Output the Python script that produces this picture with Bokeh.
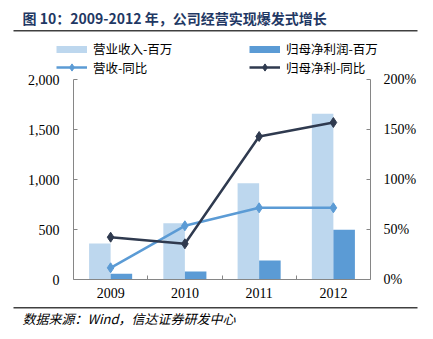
import numpy as np
from bokeh.plotting import figure
from bokeh.models import (Range1d, LinearAxis, FixedTicker, NumeralTickFormatter,
                          PrintfTickFormatter, CustomJSTickFormatter, Legend, LegendItem,
                          Label, BoxAnnotation, ColumnDataSource)
from bokeh.transform import dodge
from bokeh.embed import file_html
from bokeh.resources import INLINE

# ---- data ----
years = ["2009", "2010", "2011", "2012"]
revenue = [360, 563, 963, 1657]          # 营业收入-百万
net_profit = [57, 80, 190, 497]          # 归母净利润-百万
revenue_yoy = [11.7, 53.7, 71.7, 71.7]   # 营收-同比 (%)
profit_yoy = [42.3, 35.7, 143.0, 157.0]  # 归母净利-同比 (%)
left_ticks = [0, 500, 1000, 1500, 2000]
right_ticks = [0, 50, 100, 150, 200]
series_names = ["营业收入-百万", "归母净利润-百万", "营收-同比", "归母净利-同比"]
title_text = "图 10：2009-2012 年，公司经营实现爆发式增长"
source_text = "数据来源：Wind，信达证券研发中心"

# ---- layout (pixels) ----
W, H = 433, 339
FL, FR, FT, FB = 73, 370, 79, 279   # plot frame edges on the canvas

# ---- styles ----
C_LIGHT = "#BDD7EE"
C_BAR = "#5B9BD5"
C_LINE1 = "#5B9BD5"
C_LINE2 = "#2F3A4F"
AXIS_C = "#868686"
CJK = "Noto Sans CJK SC"
SERIF = "Liberation Serif"

n = len(years)
xs = np.arange(n) + 0.5
src = ColumnDataSource(dict(x=xs, revenue=revenue, net_profit=net_profit,
                            revenue_yoy=revenue_yoy, profit_yoy=profit_yoy))

# ranges extended so the visible frame fills the canvas and the axes sit at fixed locations
xpx = (FR - FL) / n
x0, x1 = -FL / xpx, n + (W - FR) / xpx
ymax = left_ticks[-1]
ypx = (FB - FT) / ymax
y0, y1 = -(H - FB) / ypx, ymax + FT / ypx
pmax = right_ticks[-1]
ppx = (FB - FT) / pmax
p0, p1 = -(H - FB) / ppx, pmax + FT / ppx

p = figure(width=W, height=H, x_range=Range1d(x0, x1), y_range=Range1d(y0, y1),
           output_backend="svg", toolbar_location=None,
           min_border=0, min_border_left=0, min_border_right=0,
           min_border_top=0, min_border_bottom=0)
p.outline_line_color = None
p.grid.visible = False
p.background_fill_color = "white"
p.border_fill_color = "white"
p.extra_y_ranges = {"pct": Range1d(p0, p1)}

r_rev = p.vbar(x=dodge("x", -0.145), top="revenue", width=0.29, source=src,
               fill_color=C_LIGHT, line_color=None)
r_np = p.vbar(x=dodge("x", 0.145), top="net_profit", width=0.29, source=src,
              fill_color=C_BAR, line_color=None)

l1 = p.line(x="x", y="revenue_yoy", y_range_name="pct", source=src, line_color=C_LINE1, line_width=2.5)
m1 = p.scatter(x="x", y="revenue_yoy", y_range_name="pct", source=src, marker="diamond",
               size=10, fill_color=C_LINE1, line_color=C_LINE1)
l2 = p.line(x="x", y="profit_yoy", y_range_name="pct", source=src, line_color=C_LINE2, line_width=2.5)
m2 = p.scatter(x="x", y="profit_yoy", y_range_name="pct", source=src, marker="diamond",
               size=10, fill_color=C_LINE2, line_color=C_LINE2)

# legend proxies for bar swatches (thin wide bars); NaN data draws nothing on the plot
empty = ColumnDataSource(dict(x=[np.nan], y=[np.nan]))
px1 = p.line(x="x", y="y", source=empty, line_color=C_LIGHT, line_width=7, line_cap="butt")
px2 = p.line(x="x", y="y", source=empty, line_color=C_BAR, line_width=7, line_cap="butt")

# ---- axes (fixed inside the full-canvas frame) ----
xa = p.xaxis[0]
xa.fixed_location = 0
xa.ticker = FixedTicker(ticks=list(xs), minor_ticks=list(range(1, n)))
xa.formatter = CustomJSTickFormatter(args=dict(labels=years),
                                     code="return labels[Math.floor(tick)] || ''")
xa.major_tick_in = 0
xa.major_tick_out = 0
xa.minor_tick_in = 4
xa.minor_tick_out = 0
xa.minor_tick_line_color = AXIS_C
xa.axis_line_color = AXIS_C
xa.major_label_standoff = 8
xa.major_label_text_font = SERIF
xa.major_label_text_font_size = "14px"
xa.major_label_text_color = "black"
xa.bounds = (0, n)

ya = p.yaxis[0]
ya.fixed_location = 0
ya.ticker = FixedTicker(ticks=left_ticks)
ya.formatter = NumeralTickFormatter(format="0,0")
ya.major_tick_in = 4
ya.major_tick_out = 0
ya.minor_tick_line_color = None
ya.axis_line_color = AXIS_C
ya.major_tick_line_color = AXIS_C
ya.major_label_standoff = 14
ya.major_label_text_font = SERIF
ya.major_label_text_font_size = "14px"
ya.major_label_text_color = "black"
ya.bounds = (0, ymax)

ra = LinearAxis(y_range_name="pct", ticker=FixedTicker(ticks=right_ticks),
                formatter=PrintfTickFormatter(format="%d%%"))
ra.fixed_location = n
ra.major_tick_in = 4
ra.major_tick_out = 0
ra.minor_tick_line_color = None
ra.axis_line_color = AXIS_C
ra.major_tick_line_color = AXIS_C
ra.major_label_standoff = 13
ra.major_label_text_font = SERIF
ra.major_label_text_font_size = "14px"
ra.major_label_text_color = "black"
ra.bounds = (0, pmax)
p.add_layout(ra, "right")

# ---- legends: one per entry so each row sits exactly ----
LH = 18
def mk_legend(label, renderers, left, center):
    top = center - LH / 2
    return Legend(items=[LegendItem(label=label, renderers=renderers)],
                  location=(left, H - top - LH), orientation="vertical",
                  glyph_width=31, glyph_height=LH, label_height=LH, label_standoff=6,
                  spacing=0, padding=0, margin=0,
                  label_text_font=CJK, label_text_font_size="12.5px", label_text_color="black",
                  border_line_alpha=0, background_fill_alpha=0)

p.add_layout(mk_legend(series_names[0], [px1], 56, 49), "center")
p.add_layout(mk_legend(series_names[2], [l1, m1], 56, 67.5), "center")
p.add_layout(mk_legend(series_names[1], [px2], 249, 49), "center")
p.add_layout(mk_legend(series_names[3], [l2, m2], 249, 67.5), "center")

# ---- title / footer ----
p.add_layout(Label(x=22, y=17, x_units="canvas", y_units="canvas", text=title_text,
                   text_font=CJK, text_font_size="14px", text_font_style="bold",
                   text_color="#1F3864", text_baseline="middle", text_align="left"))
p.add_layout(BoxAnnotation(left=13, right=417, top=29.5, bottom=31,
                           left_units="canvas", right_units="canvas",
                           top_units="canvas", bottom_units="canvas",
                           fill_color="#404040", fill_alpha=1, line_color=None))
p.add_layout(BoxAnnotation(left=13, right=417, top=306.5, bottom=308,
                           left_units="canvas", right_units="canvas",
                           top_units="canvas", bottom_units="canvas",
                           fill_color="#404040", fill_alpha=1, line_color=None))
p.add_layout(Label(x=22, y=318, x_units="canvas", y_units="canvas", text=source_text,
                   text_font=CJK, text_font_size="13px", text_font_style="italic",
                   text_color="black", text_baseline="middle", text_align="left"))

open("out.html", "w").write(file_html(p, INLINE))
